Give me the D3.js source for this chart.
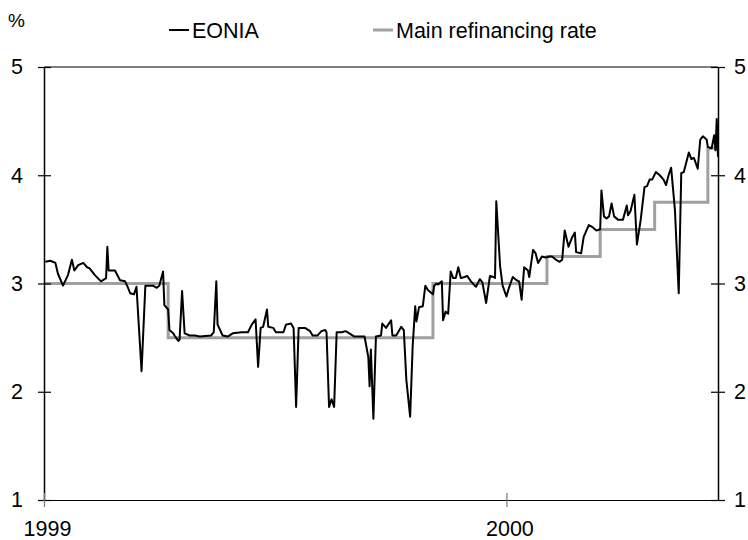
<!DOCTYPE html>
<html><head><meta charset="utf-8">
<script src="https://cdn.jsdelivr.net/npm/d3@7"></script>
<style>body{margin:0;background:#fff}svg text{font-family:"Liberation Sans",Arial,sans-serif;fill:#000}</style>
</head><body><svg id="c" width="748" height="540"></svg>
<script>
const eoniaDates = ["1999-01-02","1999-01-06","1999-01-10","1999-01-12","1999-01-16","1999-01-20","1999-01-23","1999-01-25","1999-01-28","1999-02-01","1999-02-04","1999-02-06","1999-02-10","1999-02-15","1999-02-19","1999-02-20","1999-02-21","1999-02-26","1999-03-02","1999-03-06","1999-03-08","1999-03-10","1999-03-13","1999-03-15","1999-03-19","1999-03-22","1999-03-28","1999-03-31","1999-04-02","1999-04-05","1999-04-06","1999-04-09","1999-04-10","1999-04-13","1999-04-14","1999-04-17","1999-04-18","1999-04-20","1999-04-22","1999-04-26","1999-04-30","1999-05-04","1999-05-13","1999-05-15","1999-05-17","1999-05-18","1999-05-22","1999-05-26","1999-05-30","1999-06-06","1999-06-11","1999-06-14","1999-06-17","1999-06-19","1999-06-21","1999-06-23","1999-06-26","1999-06-27","1999-07-01","1999-07-03","1999-07-09","1999-07-11","1999-07-15","1999-07-17","1999-07-19","1999-07-21","1999-07-26","1999-07-30","1999-08-01","1999-08-05","1999-08-08","1999-08-11","1999-08-12","1999-08-14","1999-08-16","1999-08-18","1999-08-20","1999-08-24","1999-08-27","1999-08-30","1999-09-03","1999-09-11","1999-09-14","1999-09-15","1999-09-16","1999-09-18","1999-09-20","1999-09-24","1999-09-25","1999-09-28","1999-10-02","1999-10-03","1999-10-06","1999-10-10","1999-10-12","1999-10-14","1999-10-17","1999-10-19","1999-10-21","1999-10-22","1999-10-24","1999-10-27","1999-10-29","1999-10-31","1999-11-03","1999-11-04","1999-11-05","1999-11-07","1999-11-08","1999-11-11","1999-11-12","1999-11-14","1999-11-16","1999-11-18","1999-11-20","1999-11-22","1999-11-24","1999-11-26","1999-11-29","1999-12-01","1999-12-04","1999-12-07","1999-12-08","1999-12-11","1999-12-13","1999-12-16","1999-12-19","1999-12-22","1999-12-23","1999-12-24","1999-12-27","1999-12-29","2000-01-01","2000-01-03","2000-01-06","2000-01-09","2000-01-11","2000-01-13","2000-01-15","2000-01-18","2000-01-19","2000-01-22","2000-01-24","2000-01-26","2000-01-29","2000-02-01","2000-02-04","2000-02-06","2000-02-09","2000-02-12","2000-02-14","2000-02-16","2000-02-19","2000-02-22","2000-02-24","2000-02-25","2000-02-29","2000-03-02","2000-03-06","2000-03-09","2000-03-12","2000-03-15","2000-03-16","2000-03-18","2000-03-20","2000-03-22","2000-03-24","2000-03-26","2000-03-29","2000-04-02","2000-04-05","2000-04-06","2000-04-08","2000-04-11","2000-04-13","2000-04-16","2000-04-19","2000-04-21","2000-04-23","2000-04-25","2000-04-28","2000-05-01","2000-05-04","2000-05-06","2000-05-08","2000-05-10","2000-05-13","2000-05-16","2000-05-18","2000-05-20","2000-05-24","2000-05-26","2000-05-28","2000-05-31","2000-06-02","2000-06-04","2000-06-07","2000-06-08","2000-06-11","2000-06-13","2000-06-14","2000-06-15","2000-06-16"];
const eoniaValues = [3.20,3.21,3.19,3.09,2.98,3.08,3.22,3.12,3.17,3.19,3.15,3.14,3.08,3.02,3.05,3.34,3.12,3.12,3.03,3.02,2.97,2.91,2.90,2.97,2.19,2.98,2.98,2.96,2.98,3.11,2.80,2.76,2.57,2.54,2.52,2.47,2.48,2.93,2.54,2.52,2.52,2.51,2.52,2.55,3.02,2.62,2.52,2.51,2.54,2.55,2.55,2.62,2.67,2.23,2.59,2.60,2.76,2.60,2.59,2.55,2.55,2.62,2.63,2.59,1.86,2.59,2.59,2.56,2.52,2.52,2.56,2.57,2.55,1.86,1.93,1.86,2.55,2.55,2.56,2.54,2.51,2.51,2.32,2.05,2.39,1.75,2.51,2.52,2.63,2.59,2.66,2.52,2.52,2.60,2.57,2.11,1.77,2.42,2.79,2.65,2.78,2.79,2.98,2.94,2.91,2.90,2.98,3.00,2.99,3.02,2.66,2.74,2.72,3.11,3.05,3.05,3.15,3.05,3.06,3.07,3.02,2.98,2.97,3.04,3.01,2.82,3.07,3.06,3.05,3.76,3.16,2.98,2.88,2.96,3.06,3.03,3.02,2.85,3.15,3.12,3.06,3.31,3.28,3.19,3.25,3.24,3.25,3.25,3.22,3.20,3.22,3.49,3.34,3.43,3.47,3.29,3.28,3.43,3.54,3.52,3.49,3.50,3.86,3.62,3.60,3.62,3.74,3.62,3.59,3.59,3.72,3.63,3.67,3.82,3.36,3.59,3.89,3.90,3.96,3.96,4.03,4.00,3.96,3.91,4.00,4.07,3.68,2.91,4.02,4.03,4.21,4.15,4.16,4.06,4.33,4.36,4.33,4.26,4.25,4.37,4.23,4.52,4.17];
const refiDates = ["1999-01-01","1999-04-09","1999-11-04","2000-02-02","2000-03-15","2000-04-27","2000-06-08","2000-06-16"];
const refiValues = [3.0,2.5,3.0,3.25,3.5,3.75,4.25,4.25];
const yTicks = [1,2,3,4,5];
const xTickDates = ["1999-01-01","2000-01-01"];
const xTickLabels = ["1999","2000"];
const seriesNames = ["EONIA","Main refinancing rate"];

const parse = d3.timeParse("%Y-%m-%d");
const L=44, R=718, T=67, B=500;
const FS=21.5;
const svg = d3.select("#c");
const x = d3.scaleTime().domain([parse("1999-01-01"), parse("2000-06-16")]).range([L,R]);
const y = d3.scaleLinear().domain([1,5]).range([B,T]);

const eonia = eoniaDates.map((d,i)=>({d:parse(d),v:eoniaValues[i]}));
const refi = refiDates.map((d,i)=>({d:parse(d),v:refiValues[i]}));

svg.append("line").attr("x1",L).attr("x2",R).attr("y1",T).attr("y2",T).attr("stroke","#000").attr("stroke-width",1.2);

svg.append("path").datum(refi)
  .attr("d",d3.line().x(p=>x(p.d)).y(p=>y(p.v)).curve(d3.curveStepAfter))
  .attr("fill","none").attr("stroke","#a0a0a0").attr("stroke-width",3);
svg.append("path").datum(eonia)
  .attr("d",d3.line().x(p=>x(p.d)).y(p=>y(p.v)))
  .attr("fill","none").attr("stroke","#000").attr("stroke-width",2).attr("stroke-linejoin","round");

const leftAx = d3.axisLeft(y).tickValues(yTicks).tickSizeInner(6).tickSizeOuter(0).tickPadding(15).tickFormat(d3.format("d"));
const gL = svg.append("g").attr("transform",`translate(${L},0)`).call(leftAx);
const rightAx = d3.axisRight(y).tickValues(yTicks).tickSizeInner(7).tickSizeOuter(0).tickPadding(9).tickFormat(d3.format("d"));
const gR = svg.append("g").attr("transform",`translate(${R},0)`).call(rightAx);
[gL,gR].forEach(g=>{
  g.select(".domain").attr("stroke","#000").attr("stroke-width",1.5);
  g.selectAll(".tick line").attr("stroke","#000").attr("stroke-width",1.2);
  g.selectAll(".tick text").attr("font-size",FS).attr("font-family","Liberation Sans, Arial, sans-serif");
});
gL.selectAll(".tick line").attr("x1",7);
gR.selectAll(".tick line").attr("x1",-7);

const bottomAx = d3.axisBottom(x).tickValues(xTickDates.map(parse)).tickSizeInner(7).tickSizeOuter(0).tickPadding(14)
  .tickFormat((d,i)=>xTickLabels[i]);
const gB = svg.append("g").attr("transform",`translate(0,${B})`).call(bottomAx);
gB.select(".domain").attr("stroke","#000").attr("stroke-width",1.2);
gB.selectAll(".tick line").attr("stroke","#777").attr("stroke-width",1.2).attr("y1",-7);
gB.selectAll(".tick text").attr("font-size",FS).attr("text-anchor","middle").attr("dx",3)
  .attr("font-family","Liberation Sans, Arial, sans-serif");

svg.append("text").attr("x",8).attr("y",27).attr("font-size",19).text("%");

const legend = [{x:169,c:"#000",w:2},{x:373,c:"#a0a0a0",w:3}];
legend.forEach((l,i)=>{
  svg.append("line").attr("x1",l.x).attr("x2",l.x+20).attr("y1",30).attr("y2",30).attr("stroke",l.c).attr("stroke-width",l.w);
  svg.append("text").attr("x",l.x+23).attr("y",37.5).attr("font-size",FS).text(seriesNames[i]);
});
</script></body></html>
